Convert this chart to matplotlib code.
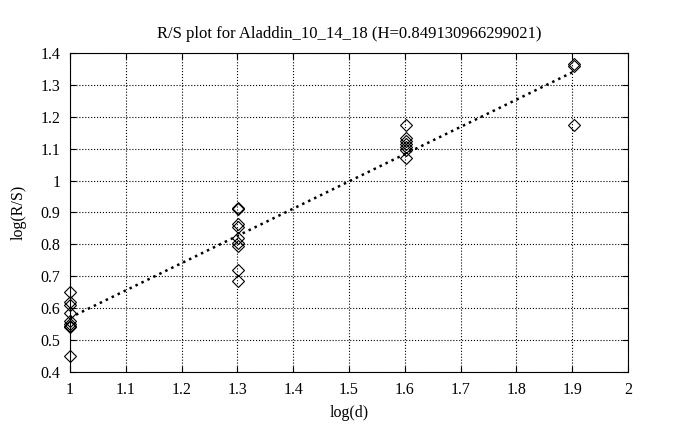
import numpy as np
import matplotlib
matplotlib.use("Agg")
import matplotlib.pyplot as plt

plt.rcParams['font.family'] = ['Liberation Serif', 'DejaVu Serif']

# Data (log10 of block size d and log10 of R/S)
x_groups = [1.0, 1.30103, 1.60206, 1.90309]
y_d10 = [0.65, 0.62, 0.61, 0.585, 0.56, 0.55, 0.545, 0.54, 0.45]
y_d20 = [0.915, 0.91, 0.865, 0.855, 0.82, 0.805, 0.795, 0.72, 0.685]
y_d40 = [1.175, 1.135, 1.125, 1.115, 1.105, 1.095, 1.07]
y_d80 = [1.365, 1.36, 1.175]
title_text = "R/S plot for Aladdin_10_14_18 (H=0.849130966299021)"
xticks = [1, 1.1, 1.2, 1.3, 1.4, 1.5, 1.6, 1.7, 1.8, 1.9, 2]
yticks = [0.4, 0.5, 0.6, 0.7, 0.8, 0.9, 1, 1.1, 1.2, 1.3, 1.4]

groups = [y_d10, y_d20, y_d40, y_d80]
xs = np.concatenate([[xg] * len(g) for xg, g in zip(x_groups, groups)])
ys = np.concatenate(groups)

fig = plt.figure(figsize=(6.78, 4.30), dpi=100)
ax = fig.add_axes([70 / 678, 1 - 372 / 430, (628 - 70) / 678, (372 - 53) / 430])

ax.plot(xs, ys, linestyle='none', marker='D', markersize=6.5,
        markerfacecolor='none', markeredgecolor='black', markeredgewidth=0.8,
        clip_on=False, zorder=3)

slope, intercept = np.polyfit(xs, ys, 1)
xl = np.array([min(x_groups), max(x_groups)])
ax.plot(xl, slope * xl + intercept, linestyle=':', color='black', linewidth=1.8)

ax.set_xlim(1, 2)
ax.set_ylim(0.4, 1.4)
ax.set_xticks(xticks)
ax.set_yticks(yticks)
ax.set_xticklabels([f"{t:g}" for t in xticks])
ax.set_yticklabels([f"{t:g}" for t in yticks])
ax.tick_params(direction='in', top=True, right=True, length=4, labelsize=11.5, pad=7)
ax.grid(True, linestyle=':', color='black', linewidth=0.8)
for s in ax.spines.values():
    s.set_linewidth(0.8)

ax.set_xlabel("log(d)", fontsize=11.5, labelpad=5)
ax.set_ylabel("log(R/S)", fontsize=11.5, labelpad=10)
ax.set_title(title_text, fontsize=12, pad=11)

fig.savefig("out.png", dpi=100)
